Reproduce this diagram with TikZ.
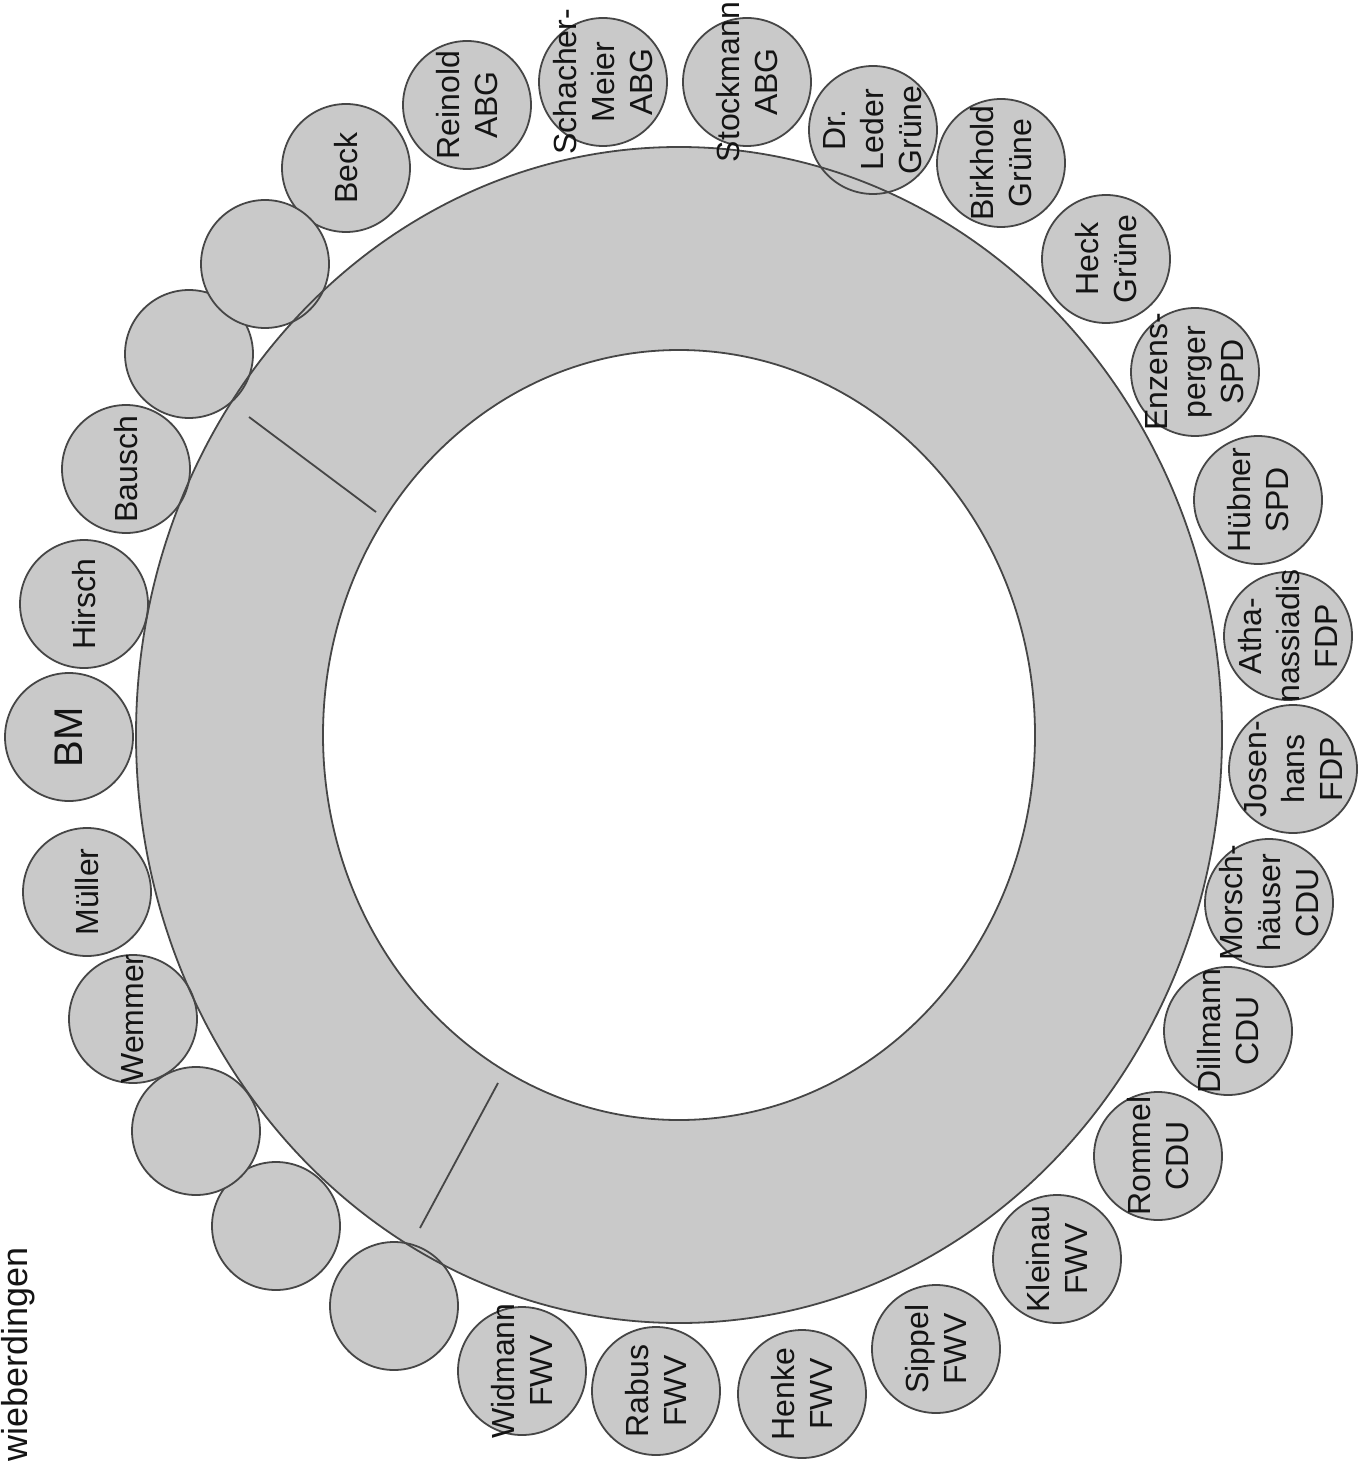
\documentclass[tikz,border=0pt]{standalone}
\usepackage{fontspec}
\setmainfont{Liberation Sans}
\definecolor{seatgray}{RGB}{201,201,201}
\definecolor{linegray}{RGB}{70,70,70}
\definecolor{txt}{RGB}{20,20,20}
\begin{document}
\begin{tikzpicture}[x=0.5pt,y=-0.5pt,
  seat/.style={circle,minimum size=64pt,inner sep=0pt,fill=seatgray,draw=linegray,line width=0.9pt},
  seattext/.style={rotate=90,align=center,text=txt,inner sep=0pt,font=\fontsize{16pt}{19pt}\selectfont},
  outline/.style={draw=linegray,line width=0.9pt},
  divider/.style={draw=linegray,line width=0.9pt}]
\useasboundingbox (0,0) rectangle (1368,1465);
% ring fill
\coordinate (ctr) at (679,735);
\fill[seatgray,even odd rule] (ctr) ellipse[x radius=271.5pt,y radius=294pt]
  (ctr) ellipse[x radius=178pt,y radius=192.5pt];
% seats
\node[seat] (s1) at (346,168) {};
\node[seat] (s2) at (467,105) {};
\node[seat] (s3) at (603,82) {};
\node[seat] (s4) at (747,82) {};
\node[seat] (s5) at (873,130) {};
\node[seat] (s6) at (1001,163) {};
\node[seat] (s7) at (1106,259) {};
\node[seat] (s8) at (1195,372) {};
\node[seat] (s9) at (1258,500) {};
\node[seat] (s10) at (1288,636) {};
\node[seat] (s11) at (1293,769) {};
\node[seat] (s12) at (1269,903) {};
\node[seat] (s13) at (1228,1031) {};
\node[seat] (s14) at (1158,1156) {};
\node[seat] (s15) at (1057,1259) {};
\node[seat] (s16) at (936,1349) {};
\node[seat] (s17) at (802,1394) {};
\node[seat] (s18) at (656,1391) {};
\node[seat] (s19) at (522,1371) {};
\node[seat] (s20) at (394,1306) {};
\node[seat] (s21) at (276,1226) {};
\node[seat] (s22) at (196,1131) {};
\node[seat] (s23) at (133,1019) {};
\node[seat] (s24) at (87,892) {};
\node[seat] (s25) at (69,737) {};
\node[seat] (s26) at (84,604) {};
\node[seat] (s27) at (126,469) {};
\node[seat] (s28) at (189,354) {};
\node[seat] (s29) at (265,264) {};
% ring outlines
\draw[outline] (ctr) ellipse[x radius=271.5pt,y radius=294pt];
\draw[outline] (ctr) ellipse[x radius=178pt,y radius=192.5pt];
% dividers
\coordinate (d1a) at (249,417);
\coordinate (d1b) at (376,512);
\coordinate (d2a) at (420,1228);
\coordinate (d2b) at (498,1083);
\draw[divider] (d1a) -- (d1b);
\draw[divider] (d2a) -- (d2b);
% names
\node[seattext] at (s1) {Beck};
\node[seattext] at (s2) {Reinold\\ABG};
\node[seattext] at (s3) {Schacher-\\Meier\\ABG};
\node[seattext] at (s4) {Stockmann\\ABG};
\node[seattext] at (s5) {Dr.\\Leder\\Grüne};
\node[seattext] at (s6) {Birkhold\\Grüne};
\node[seattext] at (s7) {Heck\\Grüne};
\node[seattext] at (s8) {Enzens-\\perger\\SPD};
\node[seattext] at (s9) {Hübner\\SPD};
\node[seattext] at (s10) {Atha-\\nassiadis\\FDP};
\node[seattext] at (s11) {Josen-\\hans\\FDP};
\node[seattext] at (s12) {Morsch-\\häuser\\CDU};
\node[seattext] at (s13) {Dillmann\\CDU};
\node[seattext] at (s14) {Rommel\\CDU};
\node[seattext] at (s15) {Kleinau\\FWV};
\node[seattext] at (s16) {Sippel\\FWV};
\node[seattext] at (s17) {Henke\\FWV};
\node[seattext] at (s18) {Rabus\\FWV};
\node[seattext] at (s19) {Widmann\\FWV};
\node[seattext] at (s23) {Wemmer};
\node[seattext] at (s24) {Müller};
\node[seattext,font=\fontsize{20pt}{24pt}\selectfont] at (s25) {BM};
\node[seattext] at (s26) {Hirsch};
\node[seattext] at (s27) {Bausch};
% title
\node[rotate=90,anchor=base west,inner sep=0pt,text=txt,font=\fontsize{18pt}{22pt}\selectfont] (title) at (27,1462) {wieberdingen};
\end{tikzpicture}
\end{document}
